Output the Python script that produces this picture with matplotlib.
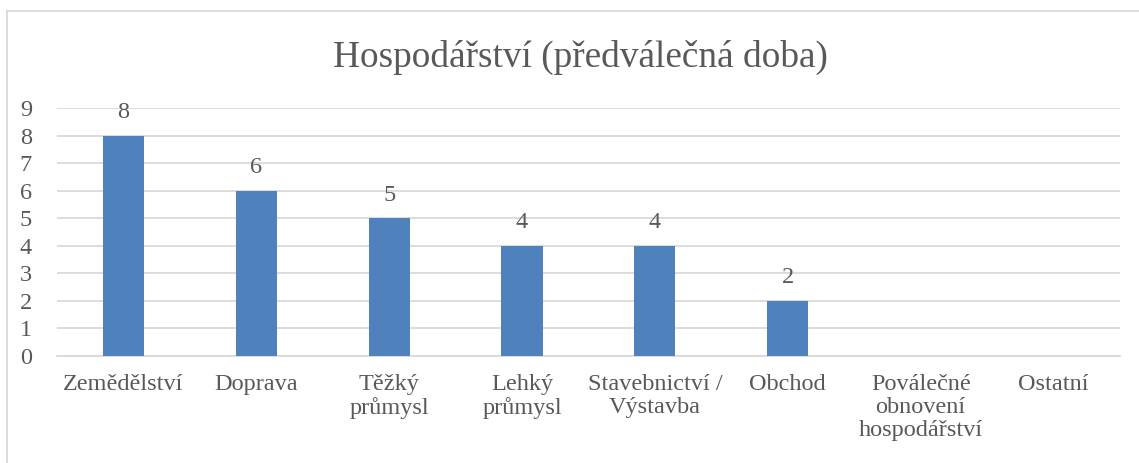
import matplotlib.pyplot as plt
from matplotlib.patches import Rectangle

kategorie = ['Zemědělství', 'Doprava', 'Těžký\nprůmysl', 'Lehký\nprůmysl',
             'Stavebnictví /\nVýstavba', 'Obchod', 'Poválečné\nobnovení\nhospodářství', 'Ostatní']
hodnoty = [8, 6, 5, 4, 4, 2, 0, 0]
y_ticks = list(range(0, 10))

plt.rcParams['font.family'] = ['Liberation Serif', 'DejaVu Serif']
text_color = '#595959'

fig = plt.figure(figsize=(11.39, 4.63), dpi=100)
ax = fig.add_axes([0.050, 0.2311, 0.9333, 0.5356])

x = range(len(kategorie))
bars = ax.bar(x, hodnoty, width=0.31, color='#4F81BD', zorder=3)

# popisky hodnot nad sloupci (jen nenulove)
for b, v in zip(bars, hodnoty):
    if v > 0:
        ax.annotate(str(v), (b.get_x() + b.get_width() / 2, v),
                    xytext=(0, 9), textcoords='offset points',
                    ha='center', va='bottom', fontsize=17.5, color=text_color)

ax.set_xlim(-0.5, len(kategorie) - 0.5)
ax.set_ylim(0, 9)
ax.set_yticks(y_ticks)
ax.set_xticks(list(x))
ax.set_xticklabels(kategorie, fontsize=17.5, color=text_color, linespacing=1.12,
                   va='top')
ax.tick_params(axis='y', labelsize=17.5, labelcolor=text_color, length=0, pad=18)
ax.tick_params(axis='x', length=0, pad=13)
ax.grid(axis='y', color='#D9D9D9', linewidth=1.3, zorder=0)
for s in ['top', 'right', 'left']:
    ax.spines[s].set_visible(False)
ax.spines['bottom'].set_color('#D9D9D9')
ax.spines['bottom'].set_linewidth(1.3)

fig.text(580 / 1139, 1 - 57 / 463, 'Hospodářství (předválečná doba)',
         ha='center', va='center', fontsize=26.8, color=text_color)

# ramecek grafu
fig.patches.append(Rectangle((7 / 1139, -0.1), 1.2, 1 - 11 / 463 + 0.1,
                             transform=fig.transFigure, fill=False,
                             edgecolor='#D9D9D9', linewidth=1.3))

fig.savefig('out.png', dpi=100)
